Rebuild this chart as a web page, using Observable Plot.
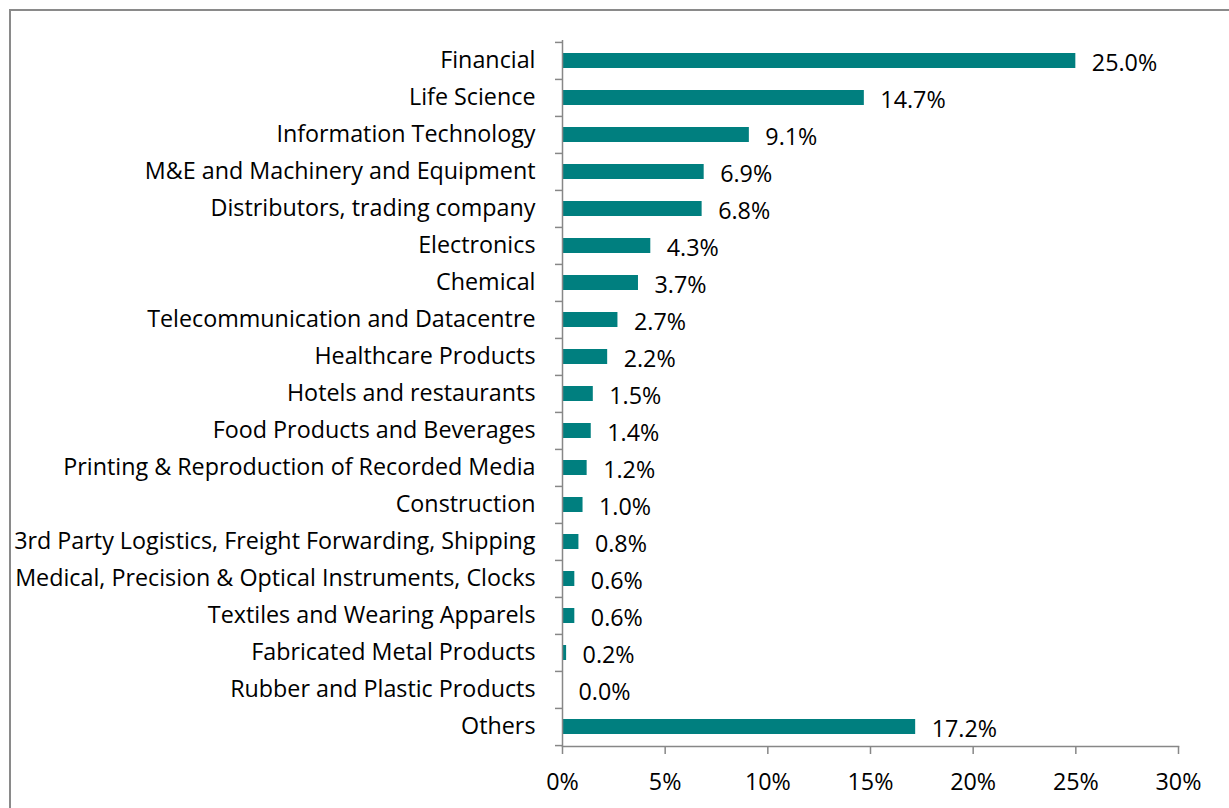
<!DOCTYPE html>
<html>
<head>
<meta charset="utf-8">
<script src="https://cdn.jsdelivr.net/npm/d3@7"></script>
<script src="https://cdn.jsdelivr.net/npm/@observablehq/plot@0.6"></script>
<style>
  html, body { margin: 0; padding: 0; background: #fff; overflow: hidden; }
  #wrap { position: relative; width: 1229px; height: 808px; }
  #frame { position: absolute; left: 9px; top: 9px; width: 1400px; height: 1000px;
           border-left: 2px solid #8a8a8a; border-top: 2px solid #8a8a8a; }
  #chart { position: absolute; left: 0; top: 0; }
</style>
</head>
<body>
<div id="wrap"><div id="frame"></div><div id="chart"></div></div>
<script>
const categories = [
  "Financial",
  "Life Science",
  "Information Technology",
  "M&E and Machinery and Equipment",
  "Distributors, trading company",
  "Electronics",
  "Chemical",
  "Telecommunication and Datacentre",
  "Healthcare Products",
  "Hotels and restaurants",
  "Food Products and Beverages",
  "Printing & Reproduction of Recorded Media",
  "Construction",
  "3rd Party Logistics, Freight Forwarding, Shipping",
  "Medical, Precision & Optical Instruments, Clocks",
  "Textiles and Wearing Apparels",
  "Fabricated Metal Products",
  "Rubber and Plastic Products",
  "Others"
];
const shares = [25.0, 14.7, 9.1, 6.9, 6.8, 4.3, 3.7, 2.7, 2.2, 1.5, 1.4, 1.2, 1.0, 0.8, 0.6, 0.6, 0.2, 0.0, 17.2];
const xTicks = [0, 5, 10, 15, 20, 25, 30];

const data = categories.map((c, i) => ({category: c, value: shares[i]}));

const W = 1229, H = 808;
const mL = 562, mR = 51, mT = 40, mB = 62;
const pxPerUnit = (W - mL - mR) / 30;
const step = (H - mT - mB) / categories.length;
const tickLen = 7 / pxPerUnit;
const axisColor = "#878787";
const font = "'Open Sans', Lato, sans-serif";
const fs = 23.3;

const chart = Plot.plot({
  width: W,
  height: H,
  marginLeft: mL,
  marginRight: mR,
  marginTop: mT,
  marginBottom: mB,
  style: {fontFamily: font, fontSize: fs + "px", color: "#000", background: "transparent"},
  x: {domain: [0, 30], label: null},
  y: {domain: categories, paddingInner: 0.6, paddingOuter: 0.3, label: null},
  marks: [
    Plot.barX(data, {x: "value", y: "category", fill: "#007f7f"}),
    Plot.ruleX([0], {stroke: axisColor, strokeWidth: 1.5}),
    Plot.ruleY(data, {y: "category", x1: -tickLen, x2: 0, dy: -step / 2, stroke: axisColor, strokeWidth: 1.5}),
    Plot.ruleY(data.slice(-1), {y: "category", x1: -tickLen, x2: 0, dy: step / 2, stroke: axisColor, strokeWidth: 1.5}),
    Plot.axisY({tickSize: 0, tickPadding: 27, fontSize: fs, fill: "#000"}),
    Plot.frame({anchor: "bottom", stroke: axisColor, strokeWidth: 1.5}),
    Plot.axisX({ticks: xTicks, tickFormat: d => d + "%", tickSize: 8, tickPadding: 18.5, stroke: axisColor, strokeWidth: 1.5, fill: "#000", fontSize: fs}),
    Plot.text(data, {x: "value", y: "category", text: d => d.value.toFixed(1) + "%", dx: 16, textAnchor: "start", fill: "#000", fontSize: fs, dy: 2.5})
  ]
});
document.getElementById("chart").appendChild(chart);
</script>
</body>
</html>
